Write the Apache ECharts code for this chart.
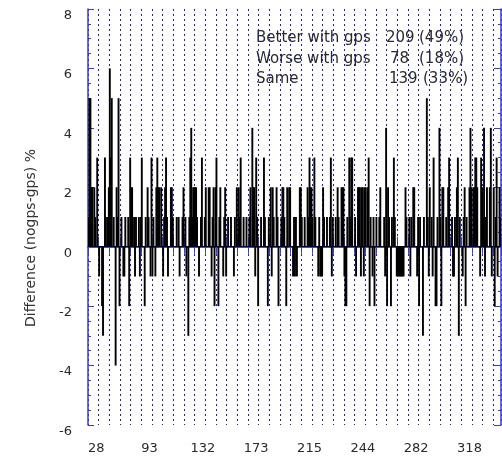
<!DOCTYPE html>
<html>
<head>
<meta charset="utf-8">
<script src="https://cdn.jsdelivr.net/npm/echarts@6/dist/echarts.min.js"></script>
<style>
html,body{margin:0;padding:0;background:#fff;}
#chart{width:502px;height:463px;}
</style>
</head>
<body>
<div id="chart"></div>
<script>
// ---- data (difference nogps - gps, %) ----
const diffPart1 = [
 1,5,5,2,2,0,2,1,0,3, 0,-1,0,0,-2,-3,0,3,1,0, 1,2,6,3,5,0,1,0,-4,2,
 1,5,-2,0,1,0,-1,-1,1,0, 0,1,-2,3,2,2,0,1,-1,1, 0,0,1,-1,1,3,0,0,-2,1,
 0,2,1,0,-1,3,-1,1,0,-1, 2,3,2,2,0,2,0,-1,1,2, 3,1,-1,0,0,2,2,1,0,0
];
const diffPart2 = [
 0,1,0,1,-1,0,0,1,2,0, 1,-1,0,-3,1,3,4,1,2,2, 2,2,1,0,-1,0,1,3,0,0,
 1,2,0,0,2,2,0,-1,1,2, -2,2,3,0,-2,1,2,0,0,-1, 1,2,-1,0,1,0,0,1,0,0,
 -1,1,0,2,0,2,1,3,0,0, 1,0,0,1,0,0,1,2,0,4, 2,2,-1,3,1,-2,0,0,1,0
];
const diffPart3 = [
 0,3,1,0,0,-2,1,0,2,-1, 2,1,0,0,2,1,-2,0,0,1, 2,2,1,0,-2,2,0,2,2,0,
 0,-1,1,-1,1,-1,0,0,2,2, 1,0,0,1,0,0,2,1,3,2, 2,1,0,3,1,0,0,-1,1,-1,
 -1,-1,2,1,0,0,1,0,0,1, 3,-1,1,0,0,1,0,2,1,0, 0,2,2,2,-1,-2,-2,1,0,3
];
const diffPart4 = [
 1,3,3,0,0,1,-1,0,2,2, 2,-1,2,2,-1,2,2,0,2,3, -2,1,0,-1,1,-2,0,1,0,0,
 1,2,0,0,0,1,-1,4,-2,2, 1,0,-2,1,0,3,1,0,-1,-1, -1,-1,-1,-1,-1,-1,0,2,1,0,
 0,1,-1,1,0,2,2,0,0,-1, 1,-2,1,0,0,-3,1,0,0,5, 1,-1,2,0,1,-1,3,0,-2,-2
];
const diffPart5 = [
 1,0,4,1,-2,2,2,0,0,1, 0,2,3,0,0,1,-1,-1,1,0, 2,3,-3,1,0,0,-1,1,2,-2,
 1,0,0,2,4,2,0,2,2,3, 3,2,0,0,-1,3,2,1,4,-1, 1,2,0,0,2,4,-1,0,2,-2,
 1,3,-1,0,2,1
];
const tickLabels = ['28','93','132','173','215','244','282','318'];
const yTicks = ['-6','-4','-2','0','2','4','6','8'];
const yTitle = 'Difference (nogps-gps) %';
const statNames = ['Better with gps','Worse with gps','Same'];
const statCounts = ['209','78','139'];
const statPcts = ['(49%)','(18%)','(33%)'];

// ---- build ----
const diffs = [].concat(diffPart1, diffPart2, diffPart3, diffPart4, diffPart5);
const LABEL_START = 8, LABEL_STEP = 55, GRID_STEP = 11;
const isLabelIdx = i => i >= LABEL_START && (i - LABEL_START) % LABEL_STEP === 0;
const categories = diffs.map((_, i) => isLabelIdx(i) ? tickLabels[(i - LABEL_START) / LABEL_STEP] : 'c' + i);

const FONT = 'DejaVu Sans';
const BLUE = '#3a3ad6';
const GRIDBLUE = '#1a1ae6';
const TXT = '#2a2a2a';

// text block layout
const statLayout = { nameX: 256, countX: [386, 390, 389], pctX: [419, 419, 423], y: [38, 59, 79] };
const graphics = [];
statNames.forEach((n, k) => {
  [[n, statLayout.nameX], [statCounts[k], statLayout.countX[k]], [statPcts[k], statLayout.pctX[k]]].forEach(([t, x]) => {
    graphics.push({ type: 'text', x: x, y: statLayout.y[k],
      style: { text: t, font: '15px "' + FONT + '"', fill: TXT, verticalAlign: 'middle', align: 'left' } });
  });
});
graphics.push({ type: 'text', x: 31, y: 238, rotation: Math.PI / 2,
  style: { text: yTitle, font: '14px "' + FONT + '"', fill: '#333', align: 'center', verticalAlign: 'middle' } });

const chart = echarts.init(document.getElementById('chart'), null, { renderer: 'canvas' });
chart.setOption({
  animation: false,
  backgroundColor: '#fff',
  grid: { left: 88, right: 1, top: 9, bottom: 38, containLabel: false, outerBoundsMode: 'none' },
  xAxis: [{
    type: 'category', data: categories, position: 'bottom', boundaryGap: true,
    axisLine: { show: true, lineStyle: { color: BLUE, width: 1.5 } },
    axisTick: { show: true, inside: true, length: 10, interval: i => i % GRID_STEP === 0, lineStyle: { color: BLUE, width: 1 } },
    axisLabel: { show: true, interval: i => isLabelIdx(i), margin: 17, color: TXT, fontSize: 13, fontFamily: FONT },
    splitLine: { show: true, interval: i => i % GRID_STEP === 0, lineStyle: { color: GRIDBLUE, width: 1, type: [2, 3] } }
  }, {
    type: 'category', data: categories, position: 'top', boundaryGap: true,
    axisLine: { show: true, lineStyle: { color: BLUE, width: 1.5 } },
    axisTick: { show: true, inside: true, length: 7, interval: i => i % GRID_STEP === 0, lineStyle: { color: BLUE, width: 1 } },
    axisLabel: { show: false }, splitLine: { show: false }
  }],
  yAxis: [{
    type: 'value', min: -6, max: 8, interval: 2, position: 'left',
    axisLine: { show: true, lineStyle: { color: BLUE, width: 1.5 } },
    axisTick: { show: true, inside: true, length: 6, lineStyle: { color: BLUE } },
    minorTick: { show: true, splitNumber: 4, length: 3, lineStyle: { color: BLUE } },
    axisLabel: { margin: 16, color: TXT, fontSize: 13, fontFamily: FONT, verticalAlign: 'top',
      formatter: v => yTicks[yTicks.indexOf(String(v))] },
    splitLine: { show: false }
  }, {
    type: 'value', min: -6, max: 8, interval: 2, position: 'right',
    axisLine: { show: true, lineStyle: { color: BLUE, width: 1.5 } },
    axisTick: { show: true, inside: true, length: 7, lineStyle: { color: BLUE } },
    minorTick: { show: true, splitNumber: 4, length: 3, lineStyle: { color: BLUE } },
    axisLabel: { show: false }, splitLine: { show: false }
  }],
  series: [{
    type: 'bar', xAxisIndex: 0, yAxisIndex: 0, data: diffs,
    barWidth: 1.9, itemStyle: { color: '#000' }, large: false,
    markLine: { silent: true, symbol: 'none', label: { show: false },
      lineStyle: { color: '#000', width: 1, type: 'solid' }, data: [{ yAxis: 0 }] }
  }],
  graphic: graphics
});
</script>
</body>
</html>
